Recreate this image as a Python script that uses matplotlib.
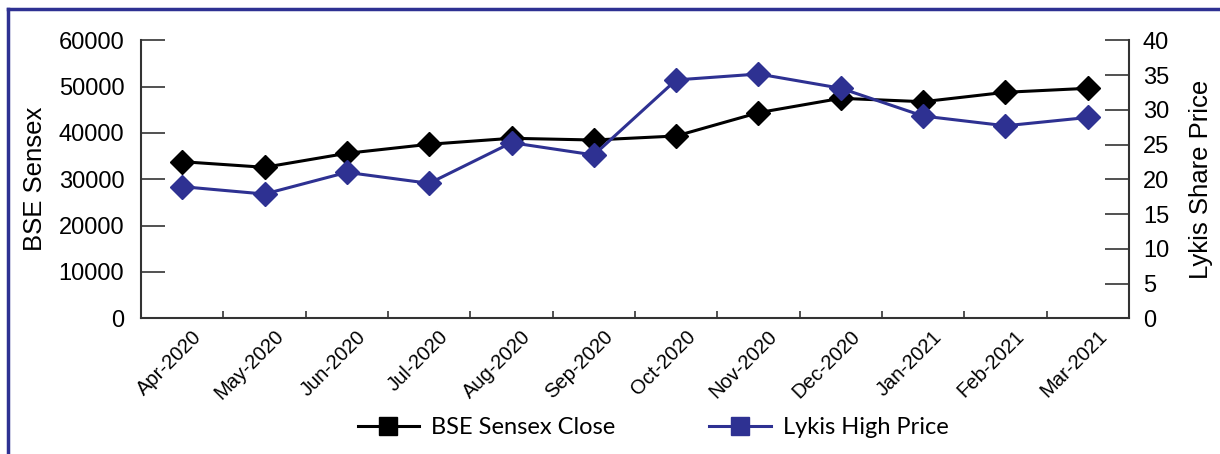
import matplotlib.pyplot as plt
from matplotlib.lines import Line2D
from matplotlib.ticker import MultipleLocator, FixedLocator
import matplotlib.transforms as mtransforms

# Data
months = ["Apr-2020", "May-2020", "Jun-2020", "Jul-2020", "Aug-2020", "Sep-2020",
          "Oct-2020", "Nov-2020", "Dec-2020", "Jan-2021", "Feb-2021", "Mar-2021"]
sensex_close = [33800, 32590, 35610, 37560, 38850, 38480,
                39350, 44380, 47480, 46750, 48780, 49640]
lykis_high = [18.94, 17.88, 21.0, 19.42, 25.27, 23.5,
              34.3, 35.15, 33.1, 29.1, 27.7, 28.9]

black = "#000000"
blue = "#2E3192"
spine_col = "#333333"

plt.rcParams["font.family"] = ["Liberation Sans", "DejaVu Sans"]

fig = plt.figure(figsize=(12.2, 4.54), dpi=100)
ax = fig.add_axes([141 / 1220, 1 - 318.3 / 454, (1129 - 141) / 1220, (318.3 - 40.3) / 454])
ax2 = ax.twinx()

x = list(range(len(months)))
ax.plot(x, sensex_close, color=black, lw=2.2, marker="D", ms=12, zorder=3)
ax2.plot(x, lykis_high, color=blue, lw=2.2, marker="D", ms=12, zorder=3)

ax.set_xlim(-0.5, len(months) - 0.5)
ax.set_ylim(0, 60000)
ax2.set_ylim(0, 40)
ax.yaxis.set_major_locator(MultipleLocator(10000))
ax2.yaxis.set_major_locator(MultipleLocator(5))

for a in (ax, ax2):
    a.spines["top"].set_visible(False)
    for s in ("left", "right", "bottom"):
        a.spines[s].set_color(spine_col)
        a.spines[s].set_linewidth(1.5)
ax.spines["right"].set_visible(False)
ax2.spines["left"].set_visible(False)
ax2.spines["bottom"].set_visible(False)

ax.tick_params(axis="y", direction="in", length=17, width=1.2, color=spine_col,
               labelsize=17, pad=12)
ax2.tick_params(axis="y", direction="in", length=17, width=1.2, color=spine_col,
                labelsize=17, pad=10)

# category labels at centres, tick marks at category boundaries
ax.xaxis.set_major_locator(FixedLocator(x))
ax.set_xticklabels(months, rotation=45, ha="right", va="center",
                   rotation_mode="anchor", fontsize=14.5)
ax.tick_params(axis="x", which="major", length=0, pad=11)
ax.xaxis.set_minor_locator(FixedLocator([i + 0.5 for i in x[:-1]]))
ax.tick_params(axis="x", which="minor", direction="in", length=5, width=1.2,
               color=spine_col)
offset = mtransforms.ScaledTranslation(16 / 100, 0, fig.dpi_scale_trans)
for lab in ax.get_xticklabels():
    lab.set_transform(lab.get_transform() + offset)

ax.set_ylabel("BSE Sensex", fontsize=18.5, labelpad=8)
ax2.set_ylabel("Lykis Share Price", fontsize=18.5, labelpad=14)

handles = [Line2D([], [], color=black, lw=2.2, marker="s", ms=13),
           Line2D([], [], color=blue, lw=2.2, marker="s", ms=13)]
fig.legend(handles, ["BSE Sensex Close", "Lykis High Price"], loc="center",
           bbox_to_anchor=(653 / 1220, 1 - 428 / 454), ncol=2, frameon=False,
           prop={"family": "Lato", "size": 17}, handlelength=2.6,
           columnspacing=4, handletextpad=0.5)

# blue frame lines along top and left
fig.add_artist(Line2D([8 / 1220, 8 / 1220], [0, 1 - 9 / 454], color=blue, lw=2.5))
fig.add_artist(Line2D([8 / 1220, 1], [1 - 9 / 454, 1 - 9 / 454], color=blue, lw=2.5))

fig.savefig("out.png", dpi=100)
